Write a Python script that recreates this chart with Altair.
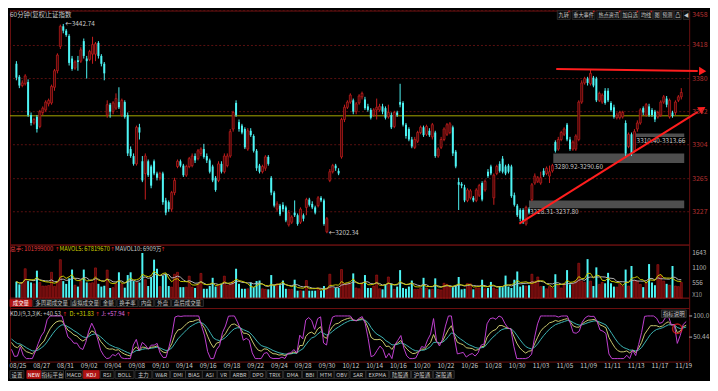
import altair as alt
import pandas as pd

# ---------------- data (60-minute candles, 上证指数) ----------------
dates = ['08/25', '08/27', '08/31', '09/02', '09/04', '09/08', '09/10', '09/14', '09/16', '09/18',
         '09/22', '09/24', '09/28', '09/30', '10/12', '10/14', '10/16', '10/20', '10/22', '10/26',
         '10/28', '10/30', '11/03', '11/05', '11/09', '11/11', '11/13', '11/17', '11/19']

open_px = [
    3397, 3382, 3372, 3374, 3376, 3338, 3329, 3336, 3325, 3341,
    3344, 3351, 3352, 3370, 3389, 3417, 3440, 3435, 3429, 3403,
    3392, 3401, 3400, 3423, 3403, 3402, 3408, 3408, 3421, 3406,
    3397, 3338, 3350, 3342, 3346, 3353, 3338, 3353, 3338, 3299,
    3291, 3282, 3324, 3285, 3271, 3285, 3279, 3285, 3271, 3266,
    3271, 3240, 3238, 3230, 3249, 3279, 3285, 3280, 3269, 3279,
    3280, 3291, 3288, 3294, 3299, 3291, 3286, 3279, 3266, 3263,
    3282, 3273, 3280, 3291, 3322, 3352, 3330, 3326, 3322, 3299,
    3320, 3314, 3297, 3280, 3273, 3277, 3290, 3266, 3249, 3230,
    3234, 3235, 3232, 3212, 3215, 3226, 3223, 3215, 3223, 3232,
    3241, 3236, 3232, 3234, 3243, 3240, 3204, 3263, 3273, 3280,
    3274, 3290, 3333, 3347, 3353, 3355, 3342, 3352, 3359, 3356,
    3348, 3344, 3338, 3344, 3344, 3348, 3346, 3336, 3338, 3325,
    3341, 3353, 3352, 3327, 3322, 3310, 3301, 3308, 3318, 3324,
    3316, 3320, 3313, 3318, 3291, 3301, 3310, 3316, 3318, 3324,
    3296, 3261, 3259, 3255, 3240, 3243, 3243, 3240, 3246, 3260,
    3252, 3273, 3279, 3243, 3271, 3282, 3288, 3279, 3280, 3279,
    3246, 3234, 3229, 3229, 3213, 3230, 3241, 3260, 3262, 3260,
    3274, 3271, 3268, 3274, 3307, 3299, 3310, 3316, 3327, 3310,
    3299, 3299, 3310, 3353, 3375, 3380, 3374, 3381, 3380, 3355,
    3353, 3366, 3366, 3352, 3347, 3335, 3335, 3336, 3329, 3302,
    3316, 3297, 3322, 3329, 3346, 3338, 3348, 3344, 3342, 3336,
    3338, 3353, 3357, 3336, 3341, 3341, 3355, 3359]

close_px = [
    3381, 3372, 3375, 3383, 3338, 3329, 3333, 3322, 3342, 3346,
    3353, 3355, 3371, 3389, 3407, 3440, 3435, 3430, 3398, 3391,
    3399, 3399, 3413, 3406, 3400, 3411, 3419, 3420, 3406, 3397,
    3386, 3350, 3342, 3352, 3357, 3347, 3355, 3336, 3294, 3291,
    3282, 3324, 3318, 3263, 3291, 3269, 3257, 3271, 3266, 3271,
    3238, 3226, 3230, 3249, 3263, 3285, 3280, 3269, 3279, 3288,
    3291, 3286, 3297, 3299, 3290, 3286, 3273, 3263, 3252, 3282,
    3273, 3291, 3291, 3319, 3341, 3338, 3322, 3318, 3301, 3320,
    3315, 3297, 3277, 3273, 3279, 3290, 3282, 3249, 3234, 3236,
    3224, 3230, 3217, 3226, 3221, 3223, 3213, 3230, 3219, 3241,
    3235, 3232, 3226, 3243, 3240, 3213, 3219, 3273, 3280, 3277,
    3271, 3333, 3347, 3353, 3361, 3342, 3351, 3360, 3363, 3346,
    3344, 3335, 3344, 3347, 3348, 3342, 3335, 3341, 3324, 3341,
    3338, 3350, 3327, 3314, 3310, 3302, 3310, 3318, 3324, 3315,
    3325, 3315, 3327, 3291, 3299, 3310, 3322, 3327, 3328, 3294,
    3279, 3258, 3257, 3240, 3252, 3251, 3240, 3252, 3257, 3241,
    3262, 3268, 3271, 3269, 3279, 3274, 3273, 3271, 3273, 3245,
    3235, 3223, 3219, 3215, 3232, 3226, 3258, 3268, 3266, 3266,
    3269, 3277, 3273, 3280, 3297, 3310, 3318, 3322, 3310, 3299,
    3307, 3314, 3353, 3375, 3380, 3375, 3386, 3372, 3355, 3363,
    3361, 3352, 3355, 3344, 3336, 3338, 3341, 3341, 3294, 3316,
    3294, 3319, 3329, 3344, 3341, 3350, 3338, 3338, 3333, 3341,
    3353, 3359, 3350, 3355, 3337, 3353, 3359, 3364]

high_px = [
    3400, 3384, 3378, 3385, 3379, 3341, 3335, 3338, 3344, 3348,
    3355, 3357, 3373, 3391, 3409, 3442, 3442.74, 3437, 3431, 3406,
    3401, 3406, 3416, 3426, 3406, 3413, 3428, 3422, 3423, 3408,
    3399, 3355, 3352, 3354, 3363, 3370, 3357, 3355, 3341, 3302,
    3294, 3326, 3328, 3291, 3294, 3287, 3281, 3287, 3273, 3273,
    3273, 3243, 3240, 3251, 3266, 3287, 3287, 3282, 3281, 3290,
    3294, 3294, 3299, 3301, 3305, 3294, 3288, 3281, 3268, 3285,
    3285, 3294, 3294, 3322, 3343, 3355, 3333, 3328, 3324, 3323,
    3323, 3316, 3299, 3282, 3281, 3292, 3292, 3268, 3251, 3239,
    3236, 3238, 3234, 3229, 3223, 3240, 3225, 3232, 3225, 3243,
    3243, 3239, 3234, 3245, 3245, 3242, 3221, 3276, 3282, 3282,
    3277, 3335, 3350, 3355, 3363, 3357, 3353, 3362, 3365, 3359,
    3351, 3346, 3346, 3357, 3351, 3351, 3348, 3350, 3341, 3343,
    3343, 3374, 3354, 3329, 3324, 3313, 3313, 3320, 3326, 3326,
    3327, 3323, 3329, 3320, 3301, 3313, 3324, 3329, 3330, 3326,
    3298, 3266, 3261, 3258, 3254, 3253, 3245, 3254, 3259, 3262,
    3264, 3276, 3281, 3271, 3281, 3285, 3291, 3281, 3282, 3281,
    3249, 3236, 3231, 3231, 3234, 3232, 3260, 3271, 3268, 3273,
    3277, 3279, 3280, 3282, 3309, 3313, 3320, 3324, 3329, 3313,
    3309, 3316, 3355, 3378, 3382, 3382, 3391, 3383, 3382, 3365,
    3363, 3369, 3369, 3354, 3350, 3341, 3343, 3343, 3332, 3318,
    3318, 3322, 3332, 3346, 3348, 3352, 3351, 3346, 3344, 3343,
    3355, 3361, 3360, 3357, 3343, 3355, 3361, 3369]

low_px = [
    3378, 3369, 3370, 3372, 3336, 3326, 3327, 3318, 3323, 3338,
    3342, 3348, 3350, 3366, 3386, 3414, 3432, 3428, 3395, 3389,
    3390, 3389, 3398, 3403, 3380, 3400, 3397, 3400, 3403, 3394,
    3378, 3335, 3335, 3339, 3344, 3345, 3336, 3334, 3291, 3289,
    3280, 3280, 3310, 3261, 3241, 3267, 3254, 3269, 3263, 3263,
    3235, 3223, 3227, 3227, 3246, 3277, 3278, 3267, 3267, 3277,
    3278, 3283, 3286, 3291, 3288, 3283, 3271, 3261, 3250, 3261,
    3271, 3271, 3278, 3289, 3319, 3336, 3319, 3316, 3299, 3297,
    3313, 3295, 3274, 3271, 3271, 3274, 3280, 3246, 3232, 3227,
    3222, 3227, 3215, 3210, 3213, 3221, 3211, 3213, 3216, 3223,
    3233, 3230, 3224, 3232, 3238, 3211, 3202.34, 3261, 3271, 3274,
    3269, 3288, 3330, 3345, 3351, 3339, 3339, 3350, 3356, 3344,
    3342, 3333, 3336, 3333, 3342, 3339, 3333, 3334, 3322, 3323,
    3336, 3347, 3325, 3311, 3308, 3300, 3299, 3306, 3316, 3313,
    3314, 3313, 3310, 3289, 3289, 3299, 3308, 3314, 3316, 3291,
    3277, 3229, 3254, 3238, 3238, 3241, 3238, 3238, 3244, 3239,
    3250, 3266, 3269, 3235, 3269, 3272, 3271, 3269, 3271, 3243,
    3233, 3221, 3216, 3213, 3211, 3224, 3239, 3258, 3260, 3258,
    3267, 3269, 3260, 3272, 3295, 3297, 3308, 3314, 3308, 3297,
    3297, 3297, 3308, 3351, 3373, 3372, 3372, 3370, 3353, 3353,
    3351, 3350, 3353, 3342, 3334, 3333, 3333, 3334, 3291, 3300,
    3291, 3295, 3319, 3327, 3338, 3336, 3336, 3336, 3330, 3334,
    3336, 3351, 3347, 3334, 3335, 3338, 3353, 3356]

volume = [
    600, 500, 560, 1070, 620, 570, 520, 1000, 570, 440,
    440, 460, 940, 430, 620, 1400, 620, 520, 720, 1040,
    470, 420, 620, 1040, 570, 540, 560, 1100, 520, 420,
    450, 1020, 370, 380, 520, 940, 520, 380, 840, 940,
    620, 570, 570, 1643, 670, 440, 770, 1400, 1070, 420,
    820, 890, 440, 400, 870, 940, 400, 400, 400, 800,
    400, 370, 520, 900, 340, 340, 440, 740, 420, 470,
    520, 800, 470, 520, 620, 1070, 520, 340, 340, 340,
    570, 400, 620, 640, 340, 320, 320, 840, 470, 520,
    470, 640, 340, 320, 320, 670, 270, 270, 270, 640,
    270, 270, 270, 370, 270, 440, 370, 870, 370, 370,
    370, 1040, 520, 520, 520, 900, 370, 340, 520, 840,
    370, 370, 440, 840, 340, 320, 500, 770, 520, 320,
    420, 1020, 370, 340, 420, 640, 320, 320, 370, 740,
    370, 320, 320, 720, 320, 300, 540, 500, 420, 400,
    470, 770, 320, 340, 530, 520, 320, 370, 370, 670,
    340, 370, 590, 370, 320, 440, 400, 820, 420, 370,
    670, 970, 420, 470, 440, 470, 870, 620, 770, 420,
    440, 340, 420, 370, 870, 470, 370, 520, 1020, 500,
    520, 620, 1270, 620, 570, 1420, 620, 440, 1120, 500,
    570, 540, 920, 540, 420, 400, 520, 440, 1040, 440,
    1170, 640, 620, 500, 400, 570, 1240, 570, 470, 1220,
    820, 620, 520, 470, 1170, 440, 420, 570]

price_ticks = [3227, 3265, 3304, 3342, 3380, 3418, 3458]
vol_ticks = [556, 1100, 1643]
kdj_ticks = [50.44, 100.0]
ref_price = [3337.2]

# drawn annotations (in candle-index / price units)
box_start = [175.0, 183.3, 211.4]
box_lo = [3231.0, 3283.0, 3313.0]
box_hi = [3240.0, 3294.0, 3317.0]
box_text = ['3228.31-3237.80', '3280.92-3290.60', '3310.40-3313.66']
trend_x1 = [184.3, 171.7]
trend_y1 = [3390.9, 3213.4]
trend_x2 = [232.6, 232.6]
trend_y2 = [3388.7, 3341.7]
head_x = [234.3, 234.2]
head_y = [3388.6, 3345.1]
head_angle = [1, 328]
extreme_idx = [16, 106]
extreme_val = [3442.74, 3202.34]

N = len(close_px)
assert all(len(a) == N for a in (open_px, high_px, low_px, volume))

# ---------------- derived indicators ----------------
K, D, J = [], [], []
k = d = 50.0
for t in range(N):
    lo = min(low_px[max(0, t - 8):t + 1])
    hi = max(high_px[max(0, t - 8):t + 1])
    rsv = 50.0 if hi == lo else (close_px[t] - lo) / (hi - lo) * 100
    k = (2 * k + rsv) / 3
    d = (2 * d + k) / 3
    j = 3 * k - 2 * d
    K.append(k)
    D.append(d)
    J.append(min(100.0, max(0.0, j)))

vs_ = pd.Series(volume, dtype=float)
df = pd.DataFrame({
    'i': list(range(N)), 'o': open_px, 'h': high_px, 'l': low_px, 'c': close_px,
    'v': volume, 'up': [c >= o for o, c in zip(open_px, close_px)],
    'K': K, 'D': D, 'J': J,
    'ma5': vs_.rolling(5, min_periods=1).mean(),
    'ma10': vs_.rolling(10, min_periods=1).mean(),
})

# ---------------- styling ----------------
FONT = 'Noto Sans CJK SC'
GRAY = '#c8c8c8'
RED = '#c81e1e'
CYAN = '#4ef5f5'
LINE_RED = '#ff1e1e'
W = 685
XMAX = 228
xs = alt.Scale(domain=[-0.5, XMAX], nice=False, zero=False)
X = alt.X('i:Q', scale=xs, axis=None)


def ptext(items, color=GRAY, size=6.5, align='left', font=FONT, weight='normal'):
    d = pd.DataFrame(items, columns=['t', 'px', 'py'])
    return alt.Chart(d).mark_text(align=align, baseline='middle', fontSize=size, font=font,
                                  color=color, fontWeight=weight).encode(
        x=alt.X('px:Q', scale=None, axis=None), y=alt.Y('py:Q', scale=None, axis=None), text='t:N')


def prect(items, fill='#0a0a0a', stroke='#3a3a3a'):
    d = pd.DataFrame(items, columns=['x1', 'x2', 'y1', 'y2'])
    return alt.Chart(d).mark_rect(fill=fill, stroke=stroke, strokeWidth=0.8).encode(
        x=alt.X('x1:Q', scale=None, axis=None), x2='x2:Q',
        y=alt.Y('y1:Q', scale=None, axis=None), y2='y2:Q')


def tab_row(tabs, y1, y2, active, size=5.5):
    normal = [t for t in tabs if t[0] not in active]
    act = [t for t in tabs if t[0] in active]
    layers = [prect([(a, b, y1, y2) for _, a, b in normal])]
    if act:
        layers.append(prect([(a, b, y1, y2) for _, a, b in act], fill='#b01414', stroke='#b01414'))
    yc = (y1 + y2) / 2 + 0.3
    layers.append(ptext([(t, (a + b) / 2, yc) for t, a, b in normal], align='center', size=size))
    if act:
        layers.append(ptext([(t, (a + b) / 2, yc) for t, a, b in act], color='#ffffff',
                            align='center', size=size))
    return layers


def right_labels(values, scale, color, size=6.5, dx=3, baseline='middle', fmt=str):
    d = pd.DataFrame({'v': values, 't': [fmt(v) for v in values]})
    return alt.Chart(d).mark_text(align='left', baseline=baseline, fontSize=size, font=FONT,
                                  color=color).encode(
        x=alt.value(W + dx), y=alt.Y('v:Q', scale=scale, axis=None), text='t:N')


# ---------------- price panel ----------------
ys = alt.Scale(domain=[3189.3, 3458.1], nice=False, zero=False)
grid = alt.Chart(pd.DataFrame({'p': price_ticks})).mark_rule(
    color='#5a1010', strokeDash=[2, 2], strokeWidth=1).encode(y=alt.Y('p:Q', scale=ys, axis=None))
plab_mid = right_labels(price_ticks[:-1], ys, '#b43030', size=7)
plab_top = right_labels(price_ticks[-1:], ys, '#b43030', size=7, baseline='top')
refline = alt.Chart(pd.DataFrame({'p': ref_price})).mark_rule(color='#a8a800', strokeWidth=1).encode(
    y=alt.Y('p:Q', scale=ys, axis=None))
box_df = pd.DataFrame({'x1': box_start, 'x2': [XMAX] * len(box_start), 'lo': box_lo, 'hi': box_hi, 't': box_text})
boxes = alt.Chart(box_df).mark_rect(color='#4e4e4e').encode(
    x=alt.X('x1:Q', scale=xs, axis=None), x2='x2:Q', y=alt.Y('lo:Q', scale=ys, axis=None), y2='hi:Q')
box_lbl = alt.Chart(box_df).mark_text(align='left', baseline='top', dx=1, dy=1, fontSize=6.5,
                                      font=FONT, color=GRAY).encode(
    x=alt.X('x1:Q', scale=xs, axis=None), y=alt.Y('lo:Q', scale=ys, axis=None), text='t:N')

up_df = alt.Chart(df).transform_filter('datum.up')
dn_df = alt.Chart(df).transform_filter('!datum.up')
wick_up = up_df.mark_rule(color=RED, strokeWidth=1).encode(x=X, y=alt.Y('l:Q', scale=ys, axis=None), y2='h:Q')
wick_dn = dn_df.mark_rule(color=CYAN, strokeWidth=1).encode(x=X, y=alt.Y('l:Q', scale=ys, axis=None), y2='h:Q')
body_up = up_df.mark_bar(size=2, fill='#3c0707', stroke=RED, strokeWidth=0.7).encode(
    x=X, y=alt.Y('o:Q', scale=ys, axis=None), y2='c:Q')
body_dn = dn_df.mark_bar(size=2, color=CYAN).encode(
    x=X, y=alt.Y('o:Q', scale=ys, axis=None), y2='c:Q')

tr_df = pd.DataFrame({'x1': trend_x1, 'y1': trend_y1, 'x2': trend_x2, 'y2': trend_y2})
trends = alt.Chart(tr_df).mark_rule(color=LINE_RED, strokeWidth=2).encode(
    x=alt.X('x1:Q', scale=xs, axis=None), x2='x2:Q', y=alt.Y('y1:Q', scale=ys, axis=None), y2='y2:Q')
hd_df = pd.DataFrame({'x': head_x, 'y': head_y, 'a': head_angle})
heads = alt.Chart(hd_df).mark_point(shape='triangle-right', filled=True, color=LINE_RED, size=70, opacity=1).encode(
    x=alt.X('x:Q', scale=xs, axis=None), y=alt.Y('y:Q', scale=ys, axis=None), angle=alt.Angle('a:Q', scale=None))
ex_df = pd.DataFrame({'x': extreme_idx, 'p': extreme_val, 't': ['←' + f'{v:.2f}' for v in extreme_val]})
extremes = alt.Chart(ex_df).mark_text(align='left', baseline='middle', dx=2, fontSize=6.5, font=FONT,
                                      color=GRAY).encode(
    x=alt.X('x:Q', scale=xs, axis=None), y=alt.Y('p:Q', scale=ys, axis=None), text='t:N')

title_txt = ptext([('60分钟(复权)', 0, 4), ('上证指数', 36, 4)], size=6.5)
buttons = [('九转', 552, 565), ('重大事件', 567, 590), ('热点资讯', 592, 616), ('加自选', 617, 634),
           ('均线', 635, 648), ('图', 649, 656), ('预测', 657, 669), ('凸', 670, 677), ('◀', 679, 685)]
btn_box = prect([(a, b, 0, 9) for _, a, b in buttons], fill='#101010', stroke='#303030')
btn_txt = ptext([(t, (a + b) / 2, 4.8) for t, a, b in buttons], align='center', size=5.2)
btn_mark = alt.Chart(pd.DataFrame({'px': [b - 1.2 for _, a, b in buttons[:5]], 'py': [1.2] * 5})).mark_point(
    shape='triangle-down', filled=True, color='#e02020', size=5, opacity=1).encode(
    x=alt.X('px:Q', scale=None, axis=None), y=alt.Y('py:Q', scale=None, axis=None))

price_panel = alt.layer(grid, refline, boxes, box_lbl, wick_up, wick_dn, body_up, body_dn,
                        trends, heads, extremes, plab_mid, plab_top,
                        title_txt, btn_box, btn_txt, btn_mark).properties(width=W, height=236)

# ---------------- volume panel ----------------
vsc = alt.Scale(domain=[-361, 1950], nice=False, zero=False)
vlabels = right_labels(vol_ticks, vsc, '#b4b4b4', size=6.5)
vbase = alt.Chart(pd.DataFrame({'z': [0]})).mark_rule(color='#8c1414', strokeWidth=1).encode(
    y=alt.Y('z:Q', scale=vsc, axis=None))
vup = up_df.mark_bar(size=2, fill='#5a0a0a', stroke='#b41818', strokeWidth=0.6).encode(
    x=X, y=alt.Y('v:Q', scale=vsc, axis=None), y2=alt.datum(0))
vdn = dn_df.mark_bar(size=2, color=CYAN).encode(
    x=X, y=alt.Y('v:Q', scale=vsc, axis=None), y2=alt.datum(0))
ma5 = alt.Chart(df).mark_line(color='#c8c800', strokeWidth=1).encode(
    x=X, y=alt.Y('ma5:Q', scale=vsc, axis=None))
ma10 = alt.Chart(df).mark_line(color='#b4b4b4', strokeWidth=1).encode(
    x=X, y=alt.Y('ma10:Q', scale=vsc, axis=None))
vlbl = [ptext([('总手: 101999000', 0, 4.5)], color='#e03c3c', size=5.8),
        ptext([('MAVOL5: 67819670', 50, 4.5)], color='#d2d200', size=5.8),
        ptext([('MAVOL10: 6909万', 106, 4.5)], color=GRAY, size=5.8),
        ptext([('↑', 45.5, 4.5), ('↑', 101, 4.5), ('↑', 152, 4.5)], color='#e02020', size=5.5,
              font='DejaVu Sans'),
        ptext([('X10', 688, 51)], color='#9a9a9a', size=6)]
vtabs = [('成交量', 0, 22), ('多周期成交量', 23, 61), ('虚拟成交量', 62, 90), ('金额', 91, 107),
         ('换手率', 108, 129), ('内盘', 130, 145), ('外盘', 146, 162), ('盘后成交量', 163, 195)]
vol_panel = alt.layer(vup, vdn, vbase, ma10, ma5, vlabels, *vlbl,
                      *tab_row(vtabs, 55.5, 62.5, {'成交量'})).properties(width=W, height=64)

# ---------------- KDJ panel ----------------
ksc = alt.Scale(domain=[-7, 118.6], nice=False, zero=False)
klabels = right_labels(kdj_ticks, ksc, '#b4b4b4', size=6.5, dx=4,
                       fmt=lambda v: f'{v:.1f}' if v >= 100 else f'{v:.2f}')
kticks = alt.Chart(pd.DataFrame({'v': kdj_ticks})).mark_rule(color='#b4b4b4', strokeWidth=1).encode(
    x=alt.value(W), x2=alt.value(W + 3), y=alt.Y('v:Q', scale=ksc, axis=None))
date_df = pd.DataFrame({'i': [8 * n for n in range(len(dates))], 't': dates})
date_txt = alt.Chart(date_df).mark_text(align='left', baseline='top', dx=-2, fontSize=6.5, font=FONT,
                                        color=GRAY).encode(
    x=alt.X('i:Q', scale=xs, axis=None), y=alt.value(55.5), text='t:N')
dline = alt.Chart(df).mark_line(color='#3cb4b4', strokeWidth=1).encode(
    x=X, y=alt.Y('D:Q', scale=ksc, axis=None))
kline = alt.Chart(df).mark_line(color='#c8c86e', strokeWidth=1).encode(
    x=X, y=alt.Y('K:Q', scale=ksc, axis=None))
jline = alt.Chart(df).mark_line(color='#c040d0', strokeWidth=1).encode(
    x=X, y=alt.Y('J:Q', scale=ksc, axis=None))
circle = alt.Chart(pd.DataFrame({'x': [224], 'y': [70]})).mark_point(
    shape='circle', filled=False, stroke='#ff2020', strokeWidth=1.5, size=90).encode(
    x=alt.X('x:Q', scale=xs, axis=None), y=alt.Y('y:Q', scale=ksc, axis=None))
KY = 6.5
klbl = [ptext([('KDJ(9,3,3)', 0, KY), ('K: +40.53', 27, KY)], color=GRAY, size=5.8),
        ptext([('D: +31.83', 60, KY)], color='#d2d200', size=5.8),
        ptext([('J: +57.94', 92, KY)], color='#e070e0', size=5.8),
        ptext([('↑', 53, KY), ('↑', 86, KY), ('↑', 117, KY)], color='#e02020', size=5.5, font='DejaVu Sans'),
        prect([(657, 682, 2, 9.5)], fill='#141414', stroke='#3a3a3a'),
        ptext([('指标说明', 669.5, 5.9)], align='center', size=5.5)]
btabs = [('设置', 0, 14), ('NEW', 17, 31), ('指标平台', 32, 54), ('MACD', 56, 73), ('KDJ', 74, 90),
         ('RSI', 91, 105), ('BOLL', 106, 125), ('主力', 126, 143), ('W&R', 144, 161), ('DMI', 162, 177),
         ('BIAS', 177, 194), ('ASI', 194, 209), ('VR', 209, 222), ('ARBR', 222, 241), ('DPO', 242, 258),
         ('TRIX', 259, 275), ('DMA', 276, 294), ('BBI', 295, 310), ('MTM', 310, 327), ('OBV', 327, 342),
         ('SAR', 343, 359), ('EXPMA', 359, 382), ('陆股通', 383, 404), ('沪股通', 405, 426), ('深股通', 427, 448)]
kdj_panel = alt.layer(dline, kline, jline, circle, klabels, kticks, date_txt, *klbl,
                      *tab_row(btabs, 63, 71, {'KDJ', 'NEW'})).properties(width=W, height=54)

chart = alt.VConcatChart(
    vconcat=[price_panel, vol_panel, kdj_panel], spacing=0, bounds='flush',
    padding={'left': 0, 'top': 0, 'right': 0, 'bottom': 0}, background='#000000',
).configure_view(stroke='#6a1010', strokeWidth=1)

chart.save("out.html", embed_options={"renderer": "svg", "actions": False})
